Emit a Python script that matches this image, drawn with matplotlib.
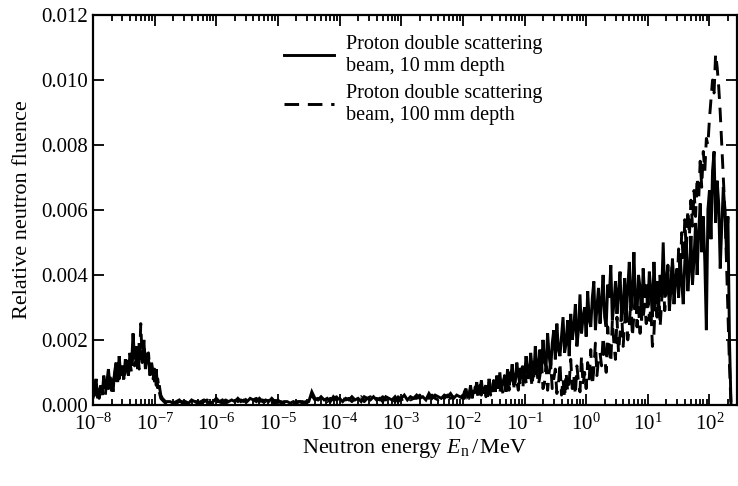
import numpy as np
import matplotlib
matplotlib.use("Agg")
import matplotlib.pyplot as plt
from matplotlib.ticker import LogLocator, FormatStrFormatter, NullLocator

plt.rcParams['font.family'] = ['Liberation Serif', 'DejaVu Serif']
plt.rcParams['mathtext.fontset'] = 'custom'
plt.rcParams['mathtext.rm'] = 'Liberation Serif'
plt.rcParams['mathtext.it'] = 'Liberation Serif:italic'
plt.rcParams['mathtext.bf'] = 'Liberation Serif:bold'

# ---------------- data (relative fluence in units of 1e-4) ----------------
# segment A: log10(E/MeV) from -8.0 to -6.8 (thermal peak)
seg_a_range = (-8.0, -6.8)
fluence_10mm_a = [3, 5, 8, 2, 4, 6, 3, 9, 5, 7,
                  11, 6, 8, 4, 10, 13, 7, 15, 9, 12,
                  8, 14, 11, 9, 16, 12, 22, 14, 18, 11,
                  19, 15, 13, 20, 11, 16, 14, 9, 13, 10,
                  7, 11, 5, 6, 3, 2, 1.5, 1, 1]
fluence_100mm_a = [2, 4, 3, 6, 2, 5, 4, 7, 3, 8,
                   5, 10, 4, 7, 9, 6, 12, 8, 11, 13,
                   7, 12, 15, 9, 13, 10, 16, 12, 14, 17,
                   11, 25, 13, 18, 15, 12, 16, 10, 12, 8,
                   11, 6, 8, 4, 2, 1.5, 1, 0.5, 1]

# segment B: log10(E/MeV) from -6.75 to -2.05 (epithermal plateau)
seg_b_range = (-6.75, -2.05)
fluence_10mm_b = [1, 0.5, 1, 1.5, 0.5, 1, 0.5, 1.5, 1, 0.5,
                  1, 1.5, 1, 0.5, 1, 2, 1, 1.5, 0.5, 1,
                  1.5, 1, 2, 1, 1.5, 1, 2, 1.5, 1, 2,
                  1, 1.5, 1, 2, 1, 1.5, 0.5, 1, 1, 0.5,
                  1, 0.5, 1, 1, 0.5, 1, 4, 2, 1.5, 2.5,
                  1.5, 2, 1, 2.5, 1.5, 2, 1, 2, 1.5, 2.5,
                  1.5, 2, 1, 2.5, 2, 1.5, 2.5, 1.5, 2, 1,
                  2.5, 2, 1.5, 2.5, 1, 2, 3, 1.5, 2.5, 2,
                  3, 2, 2.5, 1.5, 3.5, 2, 3, 2.5, 2, 3,
                  2.5, 3.5, 2, 3, 2.5]
fluence_100mm_b = [0.5, 1, 0.5, 1, 1, 0.5, 1, 0.5, 1, 1,
                   0.5, 1, 1.5, 1, 0.5, 1, 1, 0.5, 1.5, 1,
                   1, 2, 1, 1.5, 1, 2, 1, 1.5, 2, 1,
                   1.5, 1, 2, 1, 0.5, 1, 1, 0.5, 1, 1,
                   0.5, 1, 1, 0.5, 1, 0.5, 3, 1.5, 2, 1.5,
                   2, 1, 2, 1.5, 2.5, 1, 2, 1.5, 2, 1,
                   2, 1.5, 2.5, 1, 2, 2.5, 1, 2, 1.5, 2.5,
                   1.5, 2.5, 2, 1, 2.5, 1.5, 2, 2.5, 1.5, 2,
                   2, 3, 1.5, 2.5, 2, 3, 2, 1.5, 3, 2,
                   3, 2, 2.5, 3, 2]

# segment C: log10(E/MeV) from -2.0 to 2.35 (fast / high-energy part)
seg_c_range = (-2.0, 2.35)
fluence_10mm_c = [2, 4, 5, 2.5, 3, 6, 2, 4.5, 3.5, 7,
                  3, 4, 7.5, 3.5, 5, 6, 2.5, 8, 5, 4,
                  6.5, 4, 9, 5, 10, 4.5, 7, 8.5, 4, 11,
                  6, 8, 12.5, 6, 7, 13, 9, 6.5, 11, 12,
                  8, 15, 10, 9, 16, 11, 8.5, 18, 12, 10,
                  17, 11, 20, 13, 12, 22, 15, 11, 19, 23,
                  14, 25, 17, 15, 21, 27, 16, 19, 26, 15,
                  28, 20, 24, 31, 18, 23, 34, 22, 27, 30,
                  21, 35, 26, 24, 33, 38, 23, 30, 36, 25,
                  32, 40, 27, 24, 37, 33, 43, 26, 31, 38,
                  28, 35, 41, 26, 30, 39, 27, 36, 44, 29,
                  34, 47, 31, 28, 40, 36, 26, 42, 33, 37,
                  30, 41, 35, 27, 44, 32, 38, 29, 40, 34,
                  50, 33, 38, 43, 29, 36, 45, 31, 39, 42,
                  33, 46, 38, 31, 44, 49, 35, 42, 52, 37,
                  45, 56, 40, 53, 62, 47, 58, 44, 23, 60,
                  66, 51, 72, 78, 56, 69, 62, 42, 55, 67,
                  60, 48, 58, 20, 0]
fluence_100mm_c = [3, 2, 4.5, 3.5, 2, 5, 3, 2.5, 5.5, 4,
                   2.5, 6, 3, 4.5, 5.5, 2.5, 4, 7, 3, 5,
                   7.5, 3.5, 5, 8, 4, 6, 3.5, 9, 5, 6.5,
                   4.5, 10, 6, 5, 9.5, 7, 4.5, 11, 8, 5.5,
                   12, 7, 6, 13, 9, 5.5, 14, 8, 11, 6,
                   9, 14, 5, 7, 12, 4.5, 10, 13, 5, 8,
                   11, 3.5, 6, 13, 3, 8, 2, 10, 4, 7,
                   14, 5, 9, 3, 12, 7, 4, 15, 6, 10,
                   5, 13, 8, 17, 6, 11, 19, 9, 14, 16,
                   12, 21, 15, 10, 24, 17, 13, 26, 19, 14,
                   27, 16, 22, 29, 18, 25, 31, 20, 24, 33,
                   21, 28, 35, 24, 30, 22, 34, 27, 31, 25,
                   36, 26, 30, 18, 22, 33, 27, 38, 24, 32,
                   39, 29, 35, 43, 31, 38, 45, 34, 40, 36,
                   48, 40, 53, 44, 57, 47, 60, 52, 63, 55,
                   66, 58, 70, 63, 75, 67, 78, 72, 82, 80,
                   88, 94, 100, 96, 108, 104, 98, 90, 80, 70,
                   60, 45, 28, 12, 0]

unit = 1e-4
labels = ["Proton double scattering\nbeam, 10\u2009mm depth",
          "Proton double scattering\nbeam, 100\u2009mm depth"]


def build(range_list, values_list):
    xs, ys = [], []
    for (lo, hi), vals in zip(range_list, values_list):
        xs.append(10 ** np.linspace(lo, hi, len(vals)))
        ys.append(np.asarray(vals, dtype=float) * unit)
    return np.concatenate(xs), np.concatenate(ys)


ranges = [seg_a_range, seg_b_range, seg_c_range]
e10, f10 = build(ranges, [fluence_10mm_a, fluence_10mm_b, fluence_10mm_c])
e100, f100 = build(ranges, [fluence_100mm_a, fluence_100mm_b, fluence_100mm_c])

# ---------------- figure ----------------
fig = plt.figure(figsize=(7.38, 4.86), dpi=100)
ax = fig.add_axes([0.126, 0.167, 0.872, 0.802])

ax.plot(e10, f10, color='black', lw=2.1, solid_joinstyle='miter', label=labels[0])
ax.plot(e100, f100, color='black', lw=2.1, linestyle=(0, (5, 3)), label=labels[1])

ax.set_xscale('log')
ax.set_xlim(1e-8, 2.75e2)
ax.set_ylim(0, 0.012)
ax.set_yticks(np.arange(0, 0.0121, 0.002))
ax.yaxis.set_major_formatter(FormatStrFormatter('%.3f'))
ax.xaxis.set_major_locator(LogLocator(base=10, numticks=20))
ax.xaxis.set_minor_locator(LogLocator(base=10, subs=np.arange(2, 10), numticks=20))
ax.yaxis.set_minor_locator(NullLocator())

ax.tick_params(which='both', direction='in', top=True, right=True, labelsize=15, width=1.3)
ax.tick_params(which='major', length=8)
ax.tick_params(which='minor', length=4)
ax.tick_params(axis='x', which='major', pad=6)
for s in ax.spines.values():
    s.set_linewidth(1.6)

ax.set_xlabel(r"Neutron energy $E_\mathrm{n}\,/\,$MeV", fontsize=16, labelpad=2)
ax.set_ylabel("Relative neutron fluence", fontsize=16, labelpad=7)

ax.legend(loc='upper left', bbox_to_anchor=(0.272, 0.99), frameon=False, fontsize=14.5,
          handlelength=2.5, handletextpad=0.55, labelspacing=0.4, borderaxespad=0.4)

fig.savefig("out.png", dpi=100)
